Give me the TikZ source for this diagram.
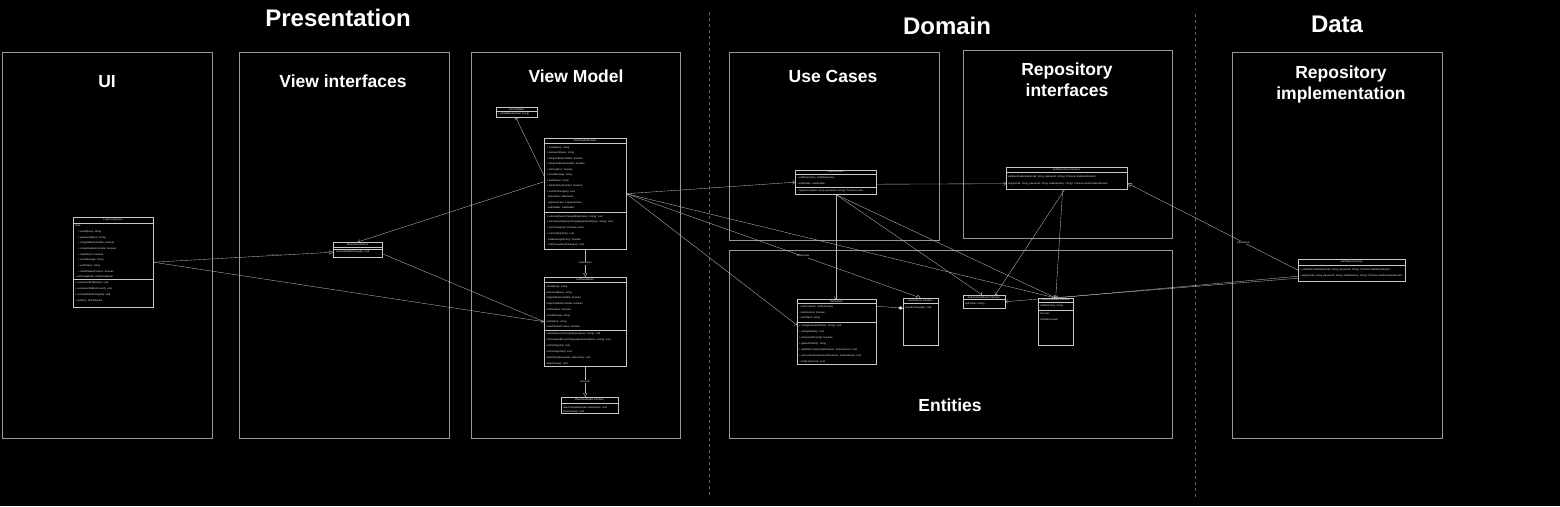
\documentclass[tikz,border=0pt]{standalone}
\usepackage{fontspec}
\setmainfont{Liberation Sans}
\usetikzlibrary{arrows.meta,calc}
\definecolor{panelc}{RGB}{150,150,150}
\definecolor{clsc}{RGB}{200,200,200}
\definecolor{txtc}{RGB}{235,235,235}
\definecolor{linec}{RGB}{185,185,185}
\definecolor{dashc}{RGB}{95,95,95}
\newcommand{\sepline}[2]{\draw[sepl] (#1.west |- 0,#2) -- (#1.east |- 0,#2);}
\begin{document}
\begin{tikzpicture}[x=1pt,y=-1pt,
  panel/.style={draw=panelc, line width=0.7pt, anchor=north west, inner sep=0pt},
  maintitle/.style={text=white, font=\fontsize{24}{28}\selectfont\bfseries, inner sep=0pt},
  ptitle/.style={text=white, font=\fontsize{17.5}{21}\selectfont\bfseries, inner sep=0pt, align=center},
  cls/.style={draw=clsc, line width=0.4pt, anchor=north west, inner sep=0pt},
  sepl/.style={draw=clsc, line width=0.4pt},
  chead/.style={text=txtc, font=\fontsize{2.5}{3}\selectfont, inner sep=0pt},
  ctext/.style={text=txtc, font=\fontsize{2.5}{#1}\selectfont, inner sep=0pt, anchor=north west, align=left},
  ctext/.default=5.7,
  conn/.style={draw=linec, line width=0.35pt},
  impl/.style={conn, -{Triangle[open, length=4pt, width=4pt]}},
  uses/.style={conn, -{Straight Barb[length=2.2pt, width=3.6pt]}},
  lbl/.style={text=txtc, font=\fontsize{2.5}{3}\selectfont, fill=black, inner sep=0.4pt}
]
\useasboundingbox (0,0) rectangle (1560,506);
\fill[black] (0,0) rectangle (1560,506);

% layer separators
\draw[dashc, line width=0.6pt, dash pattern=on 3pt off 3pt] (709,12) -- (709,498);
\draw[dashc, line width=0.6pt, dash pattern=on 3pt off 3pt] (1195,14) -- (1195,498);

% main titles
\node[maintitle] (tpres) at (338,18) {Presentation};
\node[maintitle] (tdom) at (947,26) {Domain};
\node[maintitle] (tdata) at (1337,24) {Data};

% panels
\node[panel, minimum width=210pt, minimum height=386pt] (pui) at (2,52) {};
\node[panel, minimum width=210pt, minimum height=386pt] (pvi) at (239,52) {};
\node[panel, minimum width=209pt, minimum height=386pt] (pvm) at (471,52) {};
\node[panel, minimum width=210pt, minimum height=188pt] (puc) at (729,52) {};
\node[panel, minimum width=209pt, minimum height=188pt] (pri) at (963,50) {};
\node[panel, minimum width=443pt, minimum height=188pt] (pent) at (729,250) {};
\node[panel, minimum width=210pt, minimum height=386pt] (prim) at (1232,52) {};

\node[ptitle] (tui) at (107,82) {UI};
\node[ptitle] (tvi) at (343,81) {View interfaces};
\node[ptitle] (tvm) at (576,76) {View Model};
\node[ptitle] (tuc) at (833,76) {Use Cases};
\node[ptitle] (tri) at (1067,80) {Repository\\interfaces};
\node[ptitle] (tent) at (950,405) {Entities};
\node[ptitle] (trim) at (1341,84) {Repository\\implementation};

% ---------- LoginComponent ----------
\node[cls, minimum width=80pt, minimum height=90pt] (lc) at (73,217) {};
\node[chead] (lch) at (113,220) {LoginComponent};
\sepline{lc}{223}
\node[ctext=5.67] (lcf) at (75,225) {state\\
\hspace{3pt}+ emailQuery: string\\
\hspace{3pt}+ passwordQuery: string\\
\hspace{3pt}+ isSignInButtonVisible: boolean\\
\hspace{3pt}+ isSignOutButtonVisible: boolean\\
\hspace{3pt}+ isAuthError: boolean\\
\hspace{3pt}+ errorMessage: string\\
\hspace{3pt}+ authStatus: string\\
\hspace{3pt}+ isAuthStatusPositive: boolean\\
- authViewModel: AuthViewModel};
\sepline{lc}{279.5}
\node[ctext=5.95] (lcm) at (75,281.7) {+ componentDidMount(): void\\
+ componentWillUnmount(): void\\
+ onViewModelChanged(): void\\
+ render(): JSX.Element};

% ---------- BaseView ----------
\node[cls, minimum width=49pt, minimum height=15pt] (bv) at (333,242) {};
\node[chead] (bvh) at (357.5,244.7) {BaseView Interface};
\sepline{bv}{247.3}
\sepline{bv}{249.3}
\node[ctext] (bvm1) at (336,250.7) {onViewModelChanged(): void};

% ---------- FormValidator ----------
\node[cls, minimum width=41pt, minimum height=10pt] (fv) at (496,107) {};
\node[chead] (fvh) at (516.5,109.2) {FormValidator};
\sepline{fv}{111.2}
\node[ctext] (fvm) at (498,112.8) {+ isValidEmail(email: string)};

% ---------- AuthViewModelImpl ----------
\node[cls, minimum width=82pt, minimum height=111pt] (avmi) at (544,138) {};
\node[chead] (avmih) at (585,140.6) {AuthViewModelImpl};
\sepline{avmi}{143}
\node[ctext=5.5] (avmif) at (546.5,146.2) {+ emailQuery: string\\
+ passwordQuery: string\\
+ isSignInButtonVisible: boolean\\
+ isSignOutButtonVisible: boolean\\
+ isShowError: boolean\\
+ errorMessage: string\\
+ authStatus: string\\
+ isAuthStatusPositive: boolean\\
+ onAuthChanged(): void\\
- baseView?: BaseView\\
- loginUseCase: LoginUseCase\\
- authHolder: AuthHolder};
\sepline{avmi}{212}
\node[ctext=5.7] (avmim) at (546.5,215.2) {+ onEmailQueryChanged(loginQuery: string): void\\
+ onPasswordQueryChanged(passwordQuery: string): void\\
+ onClickSignIn(): Promise<void>\\
+ onClickSignOut(): void\\
- validateLoginForm(): boolean\\
- notifyViewAboutChanges(): void};

% ---------- AuthViewModel ----------
\node[cls, minimum width=82pt, minimum height=89pt] (avm) at (544,277) {};
\node[chead] (avmh) at (585,279.6) {AuthViewModel};
\sepline{avm}{282}
\node[ctext=5.8] (avmf) at (546.5,285.2) {emailQuery: string\\
passwordQuery: string\\
isSignInButtonVisible: boolean\\
isSignOutButtonVisible: boolean\\
isShowError: boolean\\
errorMessage: string\\
authStatus: string\\
isAuthStatusPositive: boolean};
\sepline{avm}{330}
\node[ctext=5.9] (avmm) at (546.5,332.7) {onEmailQueryChanged(loginQuery: string): void\\
onPasswordQueryChanged(passwordQuery: string): void\\
onClickSignIn(): void\\
onClickSignOut(): void\\
attachView(baseView: BaseView): void\\
detachView(): void};

% ---------- BaseViewModel ----------
\node[cls, minimum width=57pt, minimum height=16pt] (bvm) at (561,397) {};
\node[chead] (bvmh) at (589.5,400) {BaseViewModel Interface};
\sepline{bvm}{403}
\node[ctext=4] (bvmm) at (563,406) {attachView(baseView: BaseView): void\\
detachView(): void};

% ---------- LoginUseCase ----------
\node[cls, minimum width=81pt, minimum height=24pt] (lu) at (795,170) {};
\node[chead] (luh) at (835.5,172.2) {LoginUseCase};
\sepline{lu}{174.5}
\node[ctext=6] (luf) at (797,176.7) {- authRepository: AuthRepository\\
- authHolder: AuthHolder};
\sepline{lu}{187}
\node[ctext] (lum) at (797,189.7) {+ loginUser(email: string, password: string): Promise<void>};

% ---------- AuthRepository ----------
\node[cls, minimum width=121pt, minimum height=22pt] (ar) at (1006,167) {};
\node[chead] (arh) at (1066.5,169.5) {AuthRepository Interface};
\sepline{ar}{172}
\node[ctext=7] (arm) at (1008,175.7) {validateCredentials(email: string, password: string): Promise<ValidationResult>\\
login(email: string, password: string, validationKey: string): Promise<AuthorizationResult>};

% ---------- AuthHolder ----------
\node[cls, minimum width=79pt, minimum height=65pt] (ah) at (797,299) {};
\node[chead] (ahh) at (836.5,301.2) {AuthHolder};
\sepline{ah}{303.3}
\node[ctext=5.8] (ahf) at (799,305.2) {- authListeners: AuthListener[]\\
- isAuthorized: boolean\\
- authToken: string};
\sepline{ah}{322}
\node[ctext=6] (ahm) at (799,324.7) {+ onSignedIn(authToken: string): void\\
+ onSignedOut(): void\\
+ isUserAuthorized(): boolean\\
+ getAuthToken(): string\\
+ addAuthListener(authListener: AuthListener): void\\
+ removeAuthListener(authListener: AuthListener): void\\
- notifyListeners(): void};

% ---------- AuthListener ----------
\node[cls, minimum width=35pt, minimum height=47pt] (al) at (903,298) {};
\node[chead] (alh) at (920.5,300.6) {AuthListener Interface};
\sepline{al}{303.2}
\node[ctext] (alm) at (905,306.7) {onAuthChanged(): void};

% ---------- AuthorizationResult ----------
\node[cls, minimum width=42pt, minimum height=13pt] (aures) at (963,295) {};
\node[chead] (auresh) at (984,297.3) {AuthorizationResult Interface};
\sepline{aures}{299.5}
\node[ctext] (auresf) at (965,302.2) {authToken: string};

% ---------- ValidationResult ----------
\node[cls, minimum width=35pt, minimum height=47pt] (vr) at (1038,298) {};
\node[chead] (vrh) at (1055.5,299.8) {ValidationResult Interface};
\sepline{vr}{301.7}
\node[ctext] (vrf) at (1040,304.7) {validationKey: string};
\sepline{vr}{310}
\node[ctext=6] (vrs) at (1040,312.7) {Success\\
ValidationFailed};

% ---------- AuthRepositoryImpl ----------
\node[cls, minimum width=107pt, minimum height=22pt] (ari) at (1298,259) {};
\node[chead] (arih) at (1351.5,262) {AuthRepositoryImpl};
\sepline{ari}{265}
\node[ctext=6] (arim) at (1300,268.7) {+ validateCredentials(email: string, password: string): Promise<ValidationResult>\\
+ login(email: string, password: string, validationKey: string): Promise<AuthorizationResult>};

% ---------- connectors ----------
\draw[impl] (lc.east) -- node[lbl, pos=0.68] (l1) {implements} ([yshift=-2.5pt]bv.west);
\draw[uses] (lc.east) -- (avm.west);
\draw[conn] ([yshift=-4pt]bv.east) -- (avm.west);
\draw[uses] ([yshift=12pt]avmi.west) -- (bv.north);
\draw[uses] ([yshift=18pt]avmi.west) -- ([xshift=-1pt]fv.south);
\draw[uses] (avmi.east) -- (lu.west);
\draw[uses] (avmi.east) -- ([yshift=6.5pt]ah.west);
\draw[impl] (avmi.east) -- node[lbl, pos=0.6] (l2) {implements} (al.north);
\draw[uses] (avmi.east) -- (vr.north);
\draw[impl] (avmi.south) -- node[lbl] (l3) {implements} (avm.north);
\draw[impl] (avm.south) -- node[lbl] (l4) {Extends} (avm.south |- bvm.north);
\draw[uses] ([yshift=-2pt]lu.east) -- ([yshift=-5.5pt]ar.west);
\draw[uses] (lu.south) -- (lu.south |- ah.north);
\draw[uses] (lu.south) -- ([xshift=-2pt]aures.north);
\draw[uses] (lu.south) -- (vr.north);
\draw[uses] ([xshift=-2pt]ar.south) -- ([xshift=11pt]aures.north);
\draw[uses] ([xshift=-4pt]ar.south) -- (vr.north);
\draw[impl] (ari.west) -- node[lbl, pos=0.32] (l5) {implements} ([yshift=-5pt]ar.east);
\draw[uses] ([yshift=-8pt]ari.west) -- (aures.east);
\draw[uses] ([yshift=-6pt]ari.west) -- (vr.north);
\draw[conn, {Diamond[length=5pt, width=3.5pt, fill=white]}-] ([yshift=13.5pt]al.west) -- ([yshift=25.5pt]ah.east);
\end{tikzpicture}
\end{document}
